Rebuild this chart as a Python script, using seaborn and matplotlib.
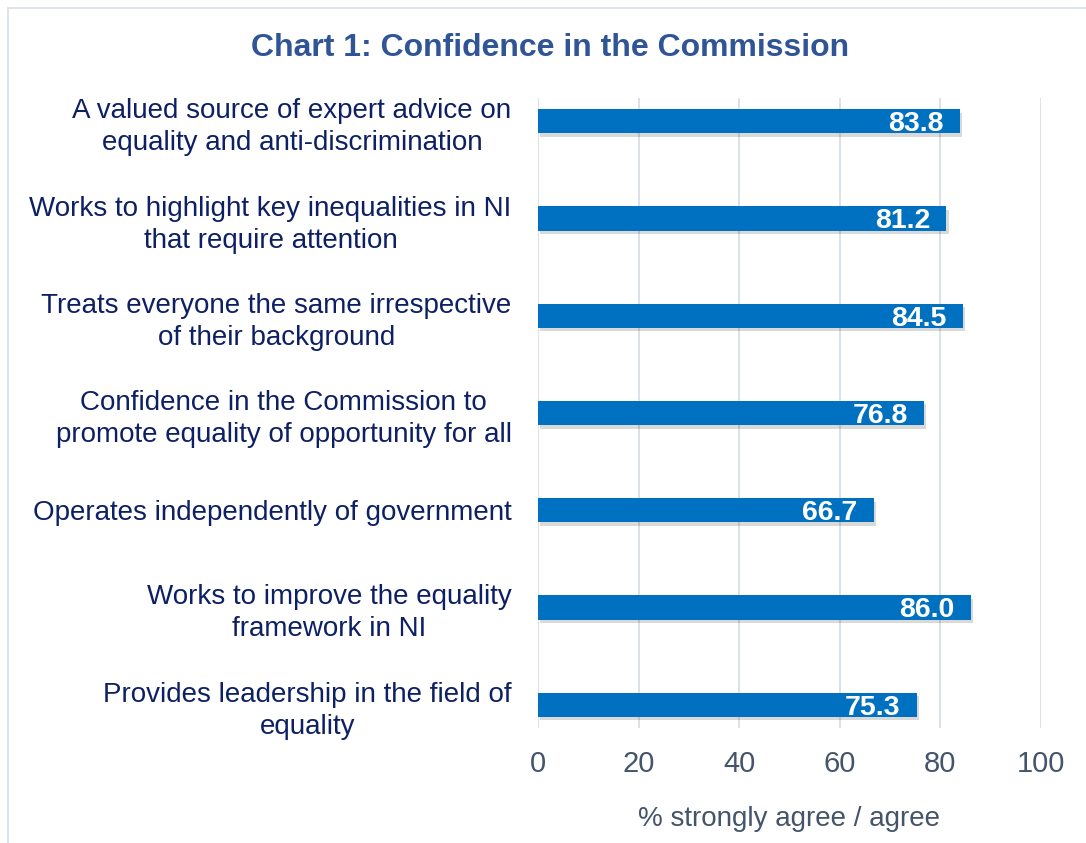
import matplotlib
matplotlib.use("Agg")
import matplotlib.pyplot as plt
import matplotlib.patheffects as pe
from matplotlib.lines import Line2D
import seaborn as sns
import pandas as pd

categories = [
    "A valued source of expert advice on\nequality and anti-discrimination",
    "Works to highlight key inequalities in NI\nthat require attention",
    "Treats everyone the same irrespective\nof their background",
    "Confidence in the Commission to\npromote equality of opportunity for all",
    "Operates independently of government",
    "Works to improve the equality\nframework in NI",
    "Provides leadership in the field of\nequality",
]
values = [83.8, 81.2, 84.5, 76.8, 66.7, 86.0, 75.3]
x_ticks = [0, 20, 40, 60, 80, 100]

title = "Chart 1: Confidence in the Commission"
x_label = "% strongly agree / agree"

bar_color = "#0070C0"
label_color = "#0E2064"
tick_color = "#44546A"
title_color = "#2F5597"
grid_color = "#D9DEE6"

sns.set_theme(style="white")
plt.rcParams["font.family"] = ["Liberation Sans", "DejaVu Sans"]

df = pd.DataFrame({"category": categories, "value": values})

fig = plt.figure(figsize=(10.86, 8.43), dpi=100)
ax = fig.add_axes([538 / 1086, 1 - 728 / 843, (1041 - 538) / 1086, (728 - 98) / 843])

sns.barplot(data=df, x="value", y="category", order=categories, color=bar_color,
            saturation=1, width=0.25, ax=ax, zorder=3)

for patch in ax.patches:
    patch.set_path_effects([pe.SimplePatchShadow(offset=(1.5, -2.5), shadow_rgbFace="#000000", alpha=0.15),
                            pe.Normal()])
    patch.set_linewidth(0)

for i, v in enumerate(values):
    ax.text(v - 3.2, i + 0.03, f"{v:.1f}", ha="right", va="center", color="white",
            fontsize=20.5, fontweight="bold", zorder=4)

ax.set_xlim(0, 100)
ax.set_ylim(6.24, -0.24)
ax.set_xticks(x_ticks)
ax.set_xticklabels([str(t) for t in x_ticks])
ax.xaxis.grid(True, color=grid_color, linewidth=1.3, zorder=0)
ax.yaxis.grid(False)
for s in ax.spines.values():
    s.set_visible(False)

ax.tick_params(axis="x", length=0, pad=16, labelsize=21, labelcolor=tick_color)
ax.tick_params(axis="y", length=0, pad=19, labelsize=20, labelcolor=label_color)
for lbl in ax.get_yticklabels():
    lbl.set_horizontalalignment("right")
    lbl.set_multialignment("center")
    lbl.set_linespacing(1.3)

ax.set_ylabel("")
ax.set_xlabel(x_label, fontsize=20, color=tick_color, labelpad=20)

fig.text(550 / 1086, 1 - 48 / 843, title, ha="center", va="center",
         fontsize=23, fontweight="bold", color=title_color)

# light frame along the top and left edges
fig.add_artist(Line2D([8 / 1086, 1], [1 - 8 / 843, 1 - 8 / 843], transform=fig.transFigure,
                      color=grid_color, linewidth=1.2))
fig.add_artist(Line2D([8 / 1086, 8 / 1086], [0, 1 - 8 / 843], transform=fig.transFigure,
                      color=grid_color, linewidth=1.2))

fig.savefig("out.png", dpi=100, facecolor="white")
